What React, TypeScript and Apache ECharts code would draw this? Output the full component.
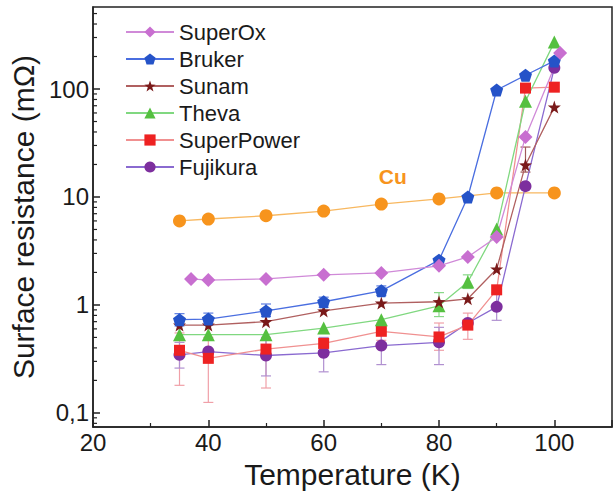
import React, { useEffect, useRef } from "react";
import * as echarts from "echarts";

const seriesNames = ["SuperOx", "Bruker", "Sunam", "Theva", "SuperPower", "Fujikura"];

const superOx = [[37, 1.74], [40, 1.7], [50, 1.74], [60, 1.9], [70, 1.98], [80, 2.3], [85, 2.78], [90, 4.26], [95, 36], [101, 215]];
const bruker = [[35, 0.73], [40, 0.74], [50, 0.88], [60, 1.07], [70, 1.35], [80, 2.6], [85, 10], [90, 98], [95, 134], [100, 182]];
const sunam = [[35, 0.65], [40, 0.65], [50, 0.7], [60, 0.88], [70, 1.04], [80, 1.07], [85, 1.14], [90, 2.15], [95, 19.8], [100, 68]];
const theva = [[35, 0.53], [40, 0.53], [50, 0.53], [60, 0.61], [70, 0.73], [80, 0.98], [85, 1.63], [90, 5.06], [95, 77], [100, 272]];
const superPower = [[35, 0.38], [40, 0.32], [50, 0.39], [60, 0.44], [70, 0.57], [80, 0.505], [85, 0.65], [90, 1.38], [95, 102], [100, 104]];
const fujikura = [[35, 0.345], [40, 0.37], [50, 0.34], [60, 0.36], [70, 0.42], [80, 0.45], [85, 0.68], [90, 0.96], [95, 12.6], [100, 157]];
const copper = [[35, 6.0], [40, 6.25], [50, 6.7], [60, 7.4], [70, 8.6], [80, 9.6], [90, 10.9], [100, 10.9]];

// error bars: [T, low, high]
const brukerErr = [[35, 0.64, 0.83], [40, 0.65, 0.84], [50, 0.78, 1.02], [60, 0.95, 1.18], [70, 1.22, 1.5]];
const sunamErr = [[95, 17, 29]];
const thevaErr = [[80, 0.78, 1.3], [85, 1.42, 1.9]];
const superPowerErr = [[35, 0.18, 0.55], [40, 0.125, 0.5], [50, 0.17, 0.48], [70, 0.47, 0.68], [80, 0.38, 0.68], [85, 0.48, 0.84]];
const fujikuraErr = [[35, 0.26, 0.45], [50, 0.22, 0.5], [60, 0.24, 0.5], [70, 0.28, 0.6], [80, 0.28, 0.62], [90, 0.72, 1.3]];

// minor tick values of the logarithmic y axis
const yMinorTicks = [
  0.08, 0.09,
  0.2, 0.3, 0.4, 0.5, 0.6, 0.7, 0.8, 0.9,
  2, 3, 4, 5, 6, 7, 8, 9,
  20, 30, 40, 50, 60, 70, 80, 90,
  200, 300, 400, 500,
];

const cuLabelPos = [72, 15.5];

const X_MIN = 20;
const X_MAX = 110;
const Y_MIN = 0.074;
const Y_MAX = 575;

const PENTAGON = "path://M0,-10L9.51,-3.09L5.88,8.09L-5.88,8.09L-9.51,-3.09Z";
const STAR = "path://M0,-10L2.35,-3.24L9.51,-3.09L3.8,1.24L5.88,8.09L0,4L-5.88,8.09L-3.8,1.24L-9.51,-3.09L-2.35,-3.24Z";

const FONT = "'Liberation Sans', Arial, sans-serif";

function errSeries(name: string, data: number[][], color: string) {
  return {
    type: "custom",
    name: name + "-err",
    data,
    encode: { x: 0, y: [1, 2] },
    z: 1,
    silent: true,
    renderItem: (params: any, api: any) => {
      const x = api.value(0);
      const lo = api.coord([x, api.value(1)]);
      const hi = api.coord([x, api.value(2)]);
      const w = 5;
      const style = { stroke: color, lineWidth: 1.2 };
      return {
        type: "group",
        children: [
          { type: "line", shape: { x1: lo[0], y1: lo[1], x2: hi[0], y2: hi[1] }, style },
          { type: "line", shape: { x1: lo[0] - w, y1: lo[1], x2: lo[0] + w, y2: lo[1] }, style },
          { type: "line", shape: { x1: hi[0] - w, y1: hi[1], x2: hi[0] + w, y2: hi[1] }, style },
        ],
      };
    },
  };
}

function lineSeries(name: string, data: number[][], symbol: string, size: number, color: string, lineColor: string) {
  return {
    type: "line",
    name,
    data,
    symbol,
    symbolSize: size,
    z: 3,
    itemStyle: { color, opacity: 1 },
    lineStyle: { color: lineColor, width: 1.3 },
  };
}

export default function App() {
  const ref = useRef<HTMLDivElement>(null);
  useEffect(() => {
    if (!ref.current) return;
    const chart = echarts.init(ref.current, null, { renderer: "svg" });
    const isPow10 = (v: number) => {
      const l = Math.log10(v);
      return Math.abs(l - Math.round(l)) < 1e-6;
    };
    chart.setOption({
      animation: false,
      backgroundColor: "#ffffff",
      textStyle: { fontFamily: FONT },
      grid: { left: 93, right: 4, top: 7, bottom: 69, show: true, borderColor: "#222", borderWidth: 1.5, backgroundColor: "transparent" },
      legend: {
        data: seriesNames,
        left: 120,
        top: 16,
        orient: "vertical",
        itemWidth: 48,
        itemHeight: 14,
        itemGap: 5,
        textStyle: { fontSize: 22, color: "#1a1a1a", fontFamily: FONT, lineHeight: 22 },
      },
      xAxis: {
        type: "value",
        min: X_MIN,
        max: X_MAX,
        interval: 20,
        name: "Temperature (K)",
        nameLocation: "middle",
        nameGap: 32,
        nameTextStyle: { fontSize: 30, color: "#1a1a1a", fontFamily: FONT },
        axisLine: { show: true, lineStyle: { color: "#222", width: 1.5 } },
        axisTick: { show: true, inside: true, length: 7, lineStyle: { color: "#222", width: 1.5 } },
        minorTick: { show: true, splitNumber: 2, length: 4, lineStyle: { color: "#222", width: 1.2 } },
        axisLabel: { fontSize: 24, color: "#1a1a1a", margin: 3, showMaxLabel: false, fontFamily: FONT },
        splitLine: { show: false },
      },
      yAxis: {
        type: "log",
        logBase: 10,
        min: Y_MIN,
        max: Y_MAX,
        name: "Surface resistance (mΩ)",
        nameLocation: "middle",
        nameGap: 49,
        nameTextStyle: { fontSize: 30, color: "#1a1a1a", fontFamily: FONT },
        axisLine: { show: true, lineStyle: { color: "#222", width: 1.5 } },
        axisTick: { show: true, inside: true, length: 7, lineStyle: { color: "#222", width: 1.5 } },
        minorTick: { show: false },
        axisLabel: {
          fontSize: 24,
          color: "#1a1a1a",
          margin: 4,
          showMinLabel: false,
          showMaxLabel: false,
          fontFamily: FONT,
          formatter: (v: number) => (isPow10(v) ? String(v).replace(".", ",") : ""),
        },
        splitLine: { show: false },
        minorSplitLine: { show: false },
      },
      series: [
        {
          type: "custom",
          name: "y-minor-ticks",
          data: yMinorTicks.map((v) => [X_MIN, v]),
          encode: { x: 0, y: 1 },
          silent: true,
          clip: false,
          z: 10,
          renderItem: (params: any, api: any) => {
            const p = api.coord([api.value(0), api.value(1)]);
            return {
              type: "line",
              shape: { x1: p[0], y1: p[1], x2: p[0] + 4, y2: p[1] },
              style: { stroke: "#222", lineWidth: 1.2 },
            };
          },
        },
        errSeries("Bruker", brukerErr, "#5b7be0"),
        errSeries("Sunam", sunamErr, "#a05a5a"),
        errSeries("Theva", thevaErr, "#88d888"),
        errSeries("SuperPower", superPowerErr, "#f0a0a8"),
        errSeries("Fujikura", fujikuraErr, "#b090d0"),
        {
          ...lineSeries("Cu", copper, "circle", 13, "#f7941d", "#f8b860"),
          markPoint: {
            symbol: "circle",
            symbolSize: 1,
            itemStyle: { color: "transparent" },
            label: { show: true, formatter: "Cu", color: "#f7941d", fontSize: 21, fontWeight: "bold", fontFamily: FONT, position: "inside" },
            data: [{ coord: cuLabelPos }],
          },
        },
        lineSeries("Fujikura", fujikura, "circle", 12, "#7d2f9e", "#8a6ad0"),
        lineSeries("SuperPower", superPower, "rect", 11, "#ee2222", "#f09090"),
        lineSeries("Theva", theva, "triangle", 13, "#55c040", "#80d880"),
        lineSeries("Sunam", sunam, STAR, 13, "#7a1a1a", "#b06060"),
        lineSeries("Bruker", bruker, PENTAGON, 13, "#2553c8", "#4a6ee0"),
        lineSeries("SuperOx", superOx, "diamond", 14, "#c86fd0", "#d08ad8"),
      ],
    });
    return () => chart.dispose();
  }, []);
  return <div ref={ref} style={{ position: "fixed", left: 0, top: 0, width: 616, height: 496 }} />;
}
